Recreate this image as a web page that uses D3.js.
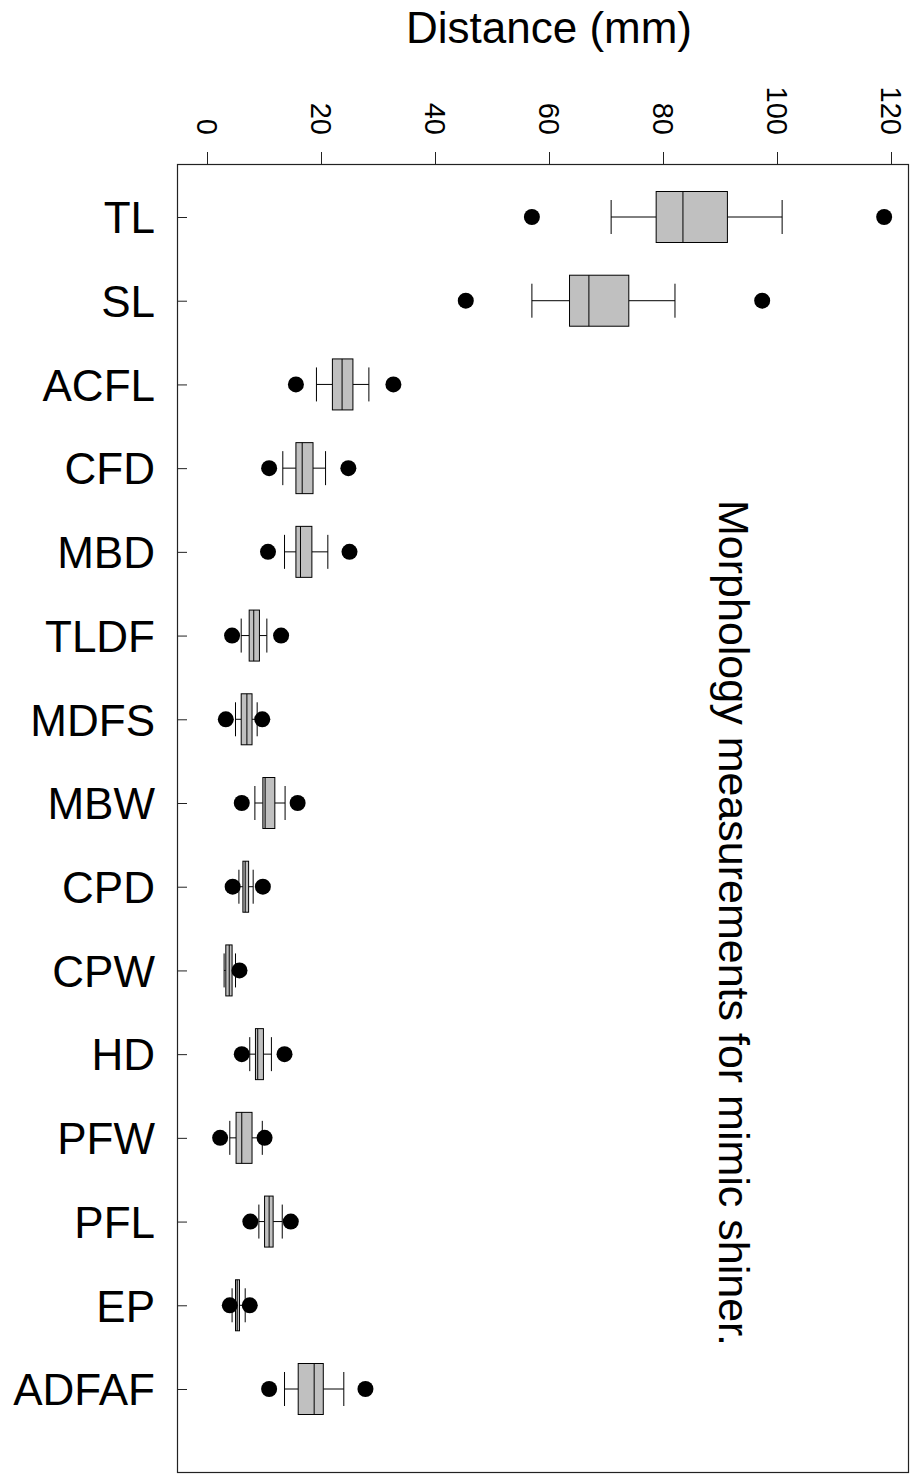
<!DOCTYPE html>
<html>
<head>
<meta charset="utf-8">
<script src="https://cdn.jsdelivr.net/npm/d3@7"></script>
<style>
  body { margin: 0; background: #fff; }
  svg { display: block; font-family: "Liberation Sans", Arial, sans-serif; }
</style>
</head>
<body>
<div id="chart"></div>
<script>
// box plot data (mm)
const categories  = ["TL", "SL", "ACFL", "CFD", "MBD", "TLDF", "MDFS", "MBW", "CPD", "CPW", "HD", "PFW", "PFL", "EP", "ADFAF"];
const whiskerLow  = [70.9, 57.0, 19.2, 13.3, 13.6, 6.0, 5.0, 8.4, 5.6, 3.0, 7.5, 4.0, 9.1, 4.4, 13.6];
const q1          = [78.8, 63.6, 22.0, 15.6, 15.6, 7.4, 6.0, 9.8, 6.3, 3.3, 8.5, 5.1, 10.1, 5.0, 16.0];
const median      = [83.5, 67.0, 23.7, 16.7, 16.4, 8.2, 7.0, 10.2, 6.7, 3.9, 8.9, 6.1, 10.9, 5.3, 18.8];
const q3          = [91.3, 74.0, 25.6, 18.6, 18.4, 9.2, 7.9, 11.9, 7.3, 4.4, 9.9, 7.9, 11.6, 5.7, 20.4];
const whiskerHigh = [100.9, 82.1, 28.4, 20.8, 21.2, 10.5, 8.8, 13.7, 8.1, 5.0, 11.3, 9.7, 13.2, 6.7, 24.0];
const outlierLow  = [57.0, 45.4, 15.6, 10.9, 10.7, 4.4, 3.3, 6.1, 4.5, null, 6.1, 2.3, 7.6, 4.0, 10.9];
const outlierHigh = [118.8, 97.4, 32.7, 24.8, 25.0, 13.0, 9.7, 15.9, 9.8, 5.7, 13.6, 10.1, 14.7, 7.5, 27.8];
const xTicks = [0, 20, 40, 60, 80, 100, 120];

const width = 922, height = 1480;
const frame = { left: 177, right: 908, top: 164, bottom: 1472 };

const svg = d3.select("#chart").append("svg")
    .attr("width", width)
    .attr("height", height);

const x = d3.scaleLinear().domain([0, 120]).range([207, 891]);
const y = d3.scalePoint().domain(categories).range([frame.top + 53, frame.bottom - 83]);

const rows = categories.map((c, i) => ({
  name: c, lo: whiskerLow[i], q1: q1[i], med: median[i], q3: q3[i], hi: whiskerHigh[i],
  outs: [outlierLow[i], outlierHigh[i]].filter(v => v != null)
}));

// frame
svg.append("rect")
    .attr("x", frame.left + 0.5).attr("y", frame.top + 0.5)
    .attr("width", frame.right - frame.left).attr("height", frame.bottom - frame.top)
    .attr("fill", "none").attr("stroke", "#222").attr("stroke-width", 1.2);

// top axis, labels turned sideways
const xAxis = svg.append("g")
    .attr("transform", `translate(0,${frame.top})`)
    .call(d3.axisTop(x).tickValues(xTicks).tickSize(12).tickSizeOuter(0));
xAxis.select(".domain").remove();
xAxis.selectAll(".tick line").attr("stroke", "#222");
xAxis.selectAll(".tick text")
    .attr("font-size", 29)
    .attr("font-family", "Liberation Sans, Arial, sans-serif")
    .attr("fill", "#000")
    .attr("text-anchor", "end")
    .attr("transform", "translate(0,-29) rotate(90)")
    .attr("x", 0).attr("y", 0).attr("dy", "0.35em");

svg.append("text")
    .attr("x", (x(0) + x(120)) / 2).attr("y", 43)
    .attr("text-anchor", "middle")
    .attr("font-size", 44)
    .text("Distance (mm)");

// left category axis, ticks inside
const yAxis = svg.append("g")
    .attr("transform", `translate(${frame.left},0)`)
    .call(d3.axisRight(y).tickSize(10).tickSizeOuter(0));
yAxis.select(".domain").remove();
yAxis.selectAll(".tick line").attr("stroke", "#222");
yAxis.selectAll(".tick text")
    .attr("x", -22)
    .attr("text-anchor", "end")
    .attr("font-size", 44)
    .attr("font-family", "Liberation Sans, Arial, sans-serif")
    .attr("fill", "#000")
    .attr("dy", "0.36em");

// boxes
const boxH = 51, capH = 34;
const g = svg.selectAll(".box")
    .data(rows)
    .enter().append("g")
    .attr("class", "box")
    .attr("transform", d => `translate(0,${y(d.name)})`);

g.append("line")
    .attr("x1", d => x(d.lo)).attr("x2", d => x(d.q1))
    .attr("stroke", "#000");
g.append("line")
    .attr("x1", d => x(d.q3)).attr("x2", d => x(d.hi))
    .attr("stroke", "#000");
g.append("line")
    .attr("x1", d => x(d.lo)).attr("x2", d => x(d.lo))
    .attr("y1", -capH / 2).attr("y2", capH / 2)
    .attr("stroke", "#000");
g.append("line")
    .attr("x1", d => x(d.hi)).attr("x2", d => x(d.hi))
    .attr("y1", -capH / 2).attr("y2", capH / 2)
    .attr("stroke", "#000");
g.append("rect")
    .attr("x", d => x(d.q1)).attr("y", -boxH / 2)
    .attr("width", d => x(d.q3) - x(d.q1)).attr("height", boxH)
    .attr("fill", "#c0c0c0").attr("stroke", "#000");
g.append("line")
    .attr("x1", d => x(d.med)).attr("x2", d => x(d.med))
    .attr("y1", -boxH / 2).attr("y2", boxH / 2)
    .attr("stroke", "#000");
g.selectAll("circle")
    .data(d => d.outs)
    .enter().append("circle")
    .attr("cx", v => x(v)).attr("cy", 0).attr("r", 8)
    .attr("fill", "#000");

// title written down the plot
svg.append("text")
    .attr("transform", "translate(719,500) rotate(90)")
    .attr("font-size", 43)
    .text("Morphology measurements for mimic shiner.");
</script>
</body>
</html>
